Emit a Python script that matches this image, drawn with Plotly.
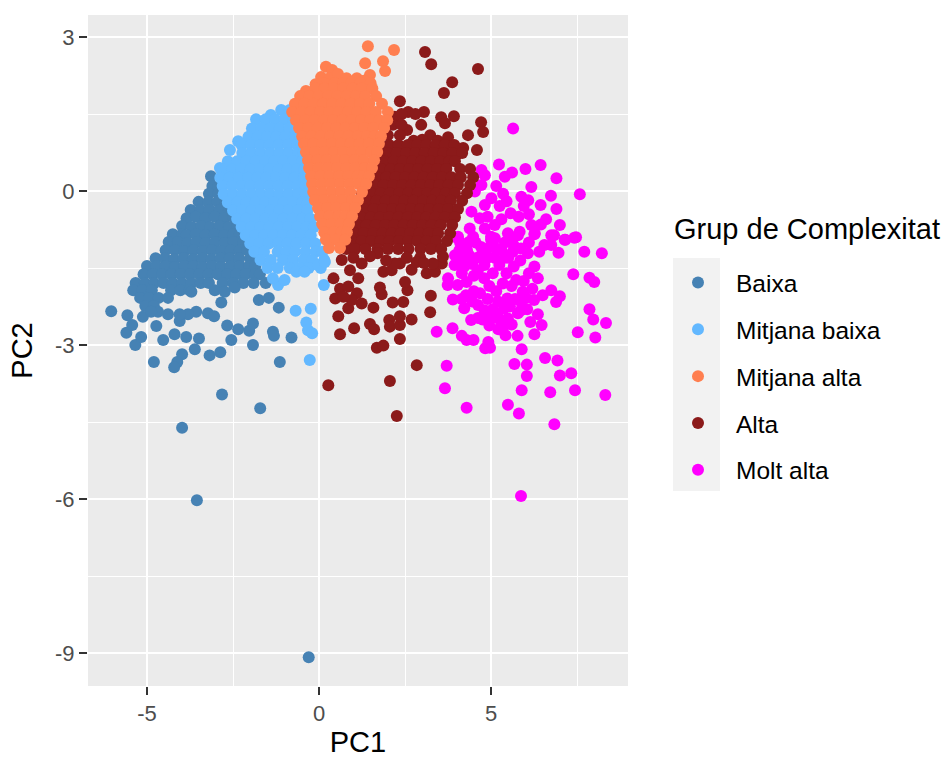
import plotly.graph_objects as go

x_tick_vals = [-5, 0, 5]
x_tick_text = ["-5", "0", "5"]
y_tick_vals = [3, 0, -3, -6, -9]
y_tick_text = ["3", "0", "-3", "-6", "-9"]
x_minor_vals = [-2.5, 2.5, 7.5]
y_minor_vals = [1.5, -1.5, -4.5, -7.5]

group_names = ["Baixa", "Mitjana baixa", "Mitjana alta", "Alta", "Molt alta"]
group_colors = ["#4682B4", "#63B8FF", "#FF7F50", "#8B1A1A", "#FF00FF"]

baixa = [
(-3.14,.29),(-3.1,.1),(-2.94,.06),(-3.2,-.05),(-2.92,-.05),(-3.5,-.21),(-3.22,-.21),(-2.95,-.21),(-2.72,-.21),
(-3.73,-.37),(-3.45,-.37),(-3.18,-.37),(-2.9,-.37),(-2.62,-.37),
(-3.85,-.53),(-3.58,-.5),(-3.3,-.53),(-3.03,-.5),(-2.76,-.53),(-2.5,-.5),
(-3.98,-.68),(-3.7,-.7),(-3.43,-.68),(-3.16,-.7),(-2.89,-.68),(-2.62,-.7),(-2.37,-.68),
(-4.25,-.84),(-3.98,-.84),(-3.85,-.86),(-3.58,-.84),(-3.3,-.86),(-3.03,-.84),(-2.76,-.86),(-2.5,-.84),(-2.3,-.84),
(-4.37,-.99),(-4.1,-.99),(-3.83,-1.01),(-3.56,-.99),(-3.29,-1.01),(-3.02,-.99),(-2.75,-1.01),(-2.48,-.99),(-2.2,-.99),
(-4.46,-1.15),(-4.19,-1.15),(-3.92,-1.17),(-3.65,-1.15),(-3.38,-1.17),(-3.11,-1.15),(-2.84,-1.17),(-2.57,-1.15),(-2.3,-1.15),(-2.08,-1.15),
(-4.75,-1.31),(-4.48,-1.31),(-4.21,-1.33),(-3.94,-1.31),(-3.67,-1.33),(-3.4,-1.31),(-3.13,-1.33),(-2.86,-1.31),(-2.59,-1.31),(-2.32,-1.31),(-2.0,-1.31),
(-5.0,-1.46),(-4.73,-1.46),(-4.46,-1.46),(-4.19,-1.48),(-3.92,-1.46),(-3.65,-1.46),(-3.38,-1.48),(-3.11,-1.46),(-2.84,-1.48),(-2.57,-1.46),(-2.3,-1.46),(-2.03,-1.46),(-1.85,-1.46),
(-5.1,-1.62),(-4.83,-1.62),(-4.56,-1.62),(-4.29,-1.62),(-4.02,-1.62),(-3.75,-1.62),(-3.48,-1.62),(-3.21,-1.62),(-2.94,-1.62),(-2.67,-1.62),(-2.4,-1.62),(-2.13,-1.62),(-1.86,-1.62),(-1.72,-1.62),
(-5.33,-1.79),(-5.06,-1.79),(-4.79,-1.79),(-4.52,-1.79),(-4.25,-1.79),(-3.98,-1.79),(-3.71,-1.79),(-3.44,-1.79),(-3.2,-1.79),(-2.8,-1.79),(-2.5,-1.79),(-2.2,-1.79),(-1.9,-1.79),(-1.55,-1.79),
(-5.4,-1.93),(-5.13,-1.93),(-4.86,-1.93),(-4.3,-1.93),(-4.03,-1.93),(-3.76,-1.93),
(-5.2,-2.08),(-4.93,-2.08),(-4.66,-2.08),(-4.39,-2.08),(-5.05,-2.24),(-4.8,-2.24),
(-6.04,-2.34),(-5.57,-2.42),(-5.6,-2.76),(-5.34,-3.0),(-5.17,-2.84),(-5.43,-2.61),(-5.12,-2.45),(-4.73,-2.63),(-4.53,-2.9),
(-4.2,-2.79),(-3.86,-2.84),(-3.49,-2.87),(-3.61,-3.08),(-3.98,-3.18),(-4.12,-3.33),(-4.21,-3.43),(-4.8,-3.33),(-3.18,-3.2),
(-2.87,-3.14),(-2.55,-2.9),(-2.67,-2.62),(-2.35,-2.69),(-2.03,-2.72),(-1.92,-2.58),(-1.92,-3.0),(-1.34,-2.74),(-1.31,-2.82),
(-.8,-2.85),(-1.14,-3.33),(-1.17,-2.27),(-1.75,-2.12),(-1.46,-2.08),(-2.84,-2.17),(-3.03,-1.93),(-2.74,-1.96),(-2.45,-1.88),
(-3.71,-1.96),(-3.23,-2.38),(-3.05,-2.44),(-3.57,-2.35),(-3.81,-2.4),(-4.05,-2.53),(-4.05,-2.4),(-4.39,-2.4),(-4.68,-2.35),(-4.88,-2.35),
(-2.82,-3.96),(-1.71,-4.23),(-3.98,-4.61),(-3.55,-6.02),(-.3,-9.08),
]

mitjana_baixa = [
(-1.1,1.58),(-.85,1.58),(-.6,1.58),(-1.4,1.48),(-1.83,1.4),(-1.55,1.4),(-1.28,1.4),(-1.0,1.4),(-.75,1.4),
(-1.95,1.22),(-1.68,1.22),(-1.41,1.22),(-1.14,1.22),(-.87,1.22),(-.62,1.22),
(-2.05,1.06),(-1.78,1.06),(-1.51,1.06),(-1.24,1.06),(-.97,1.06),(-.7,1.06),(-.55,1.06),(-2.35,.97),
(-2.25,.9),(-1.98,.9),(-1.71,.9),(-1.44,.9),(-1.17,.9),(-.9,.9),(-.63,.9),(-.5,.9),(-2.59,.8),
(-2.23,.74),(-1.96,.74),(-1.69,.74),(-1.42,.74),(-1.15,.74),(-.88,.74),(-.61,.74),(-.45,.74),
(-2.65,.58),(-2.38,.58),(-2.11,.58),(-1.84,.58),(-1.57,.58),(-1.3,.58),(-1.03,.58),(-.76,.58),(-.49,.58),(-2.88,.45),
(-2.8,.42),(-2.53,.42),(-2.26,.42),(-1.99,.42),(-1.72,.42),(-1.45,.42),(-1.18,.42),(-.91,.42),(-.64,.42),(-.42,.42),
(-2.87,.26),(-2.6,.26),(-2.33,.26),(-2.06,.26),(-1.79,.26),(-1.52,.26),(-1.25,.26),(-.98,.26),(-.71,.26),(-.44,.26),
(-2.8,.1),(-2.53,.1),(-2.26,.1),(-1.99,.1),(-1.72,.1),(-1.45,.1),(-1.18,.1),(-.91,.1),(-.64,.1),(-.4,.1),
(-2.77,-.06),(-2.5,-.06),(-2.23,-.06),(-1.96,-.06),(-1.69,-.06),(-1.42,-.06),(-1.15,-.06),(-.88,-.06),(-.61,-.06),(-.38,-.06),
(-2.65,-.22),(-2.38,-.22),(-2.11,-.22),(-1.84,-.22),(-1.57,-.22),(-1.3,-.22),(-1.03,-.22),(-.76,-.22),(-.49,-.22),(-.33,-.22),
(-2.5,-.38),(-2.23,-.38),(-1.96,-.38),(-1.69,-.38),(-1.42,-.38),(-1.15,-.38),(-.88,-.38),(-.61,-.38),(-.34,-.38),
(-2.38,-.54),(-2.11,-.54),(-1.84,-.54),(-1.57,-.54),(-1.3,-.54),(-1.03,-.54),(-.76,-.54),(-.49,-.54),(-.25,-.54),
(-2.25,-.7),(-1.98,-.7),(-1.71,-.7),(-1.44,-.7),(-1.17,-.7),(-.9,-.7),(-.63,-.7),(-.36,-.7),(-.15,-.7),
(-2.13,-.86),(-1.86,-.86),(-1.59,-.86),(-1.32,-.86),(-1.05,-.86),(-.78,-.86),(-.51,-.86),(-.24,-.86),
(-2.0,-1.02),(-1.73,-1.02),(-1.46,-1.02),(-1.19,-1.02),(-.92,-1.02),(-.65,-1.02),(-.38,-1.02),(-.11,-1.02),
(-1.88,-1.18),(-1.6,-1.18),(-1.2,-1.18),(-.95,-1.18),(-.7,-1.18),(-.4,-1.18),(-.1,-1.18),(.1,-1.18),
(-1.7,-1.34),(-1.4,-1.34),(-1.05,-1.34),(-.75,-1.34),(-.45,-1.34),(-.2,-1.34),(.15,-1.34),
(-1.5,-1.5),(-1.2,-1.5),(-.85,-1.5),(-.55,-1.5),(-.3,-1.5),(.05,-1.5),
(-1.19,-1.83),(-1.34,-1.7),(-1.0,-1.73),(-.66,-1.57),(-.42,-1.57),(-.03,-1.44),(.17,-1.38),(.14,-1.83),
(-.68,-2.33),(-.24,-2.29),(-.37,-2.56),(-.32,-2.71),(-.2,-2.77),(-.27,-3.29),
]

mitjana_alta = [
(1.42,2.82),(2.18,2.75),(1.86,2.53),(1.92,2.34),(1.34,2.49),(1.48,2.26),(.2,2.42),(.38,2.36),(.06,2.22),
(.3,2.2),(.55,2.28),(.8,2.2),(1.1,2.2),(1.3,2.15),(.15,2.1),(.45,2.1),(.7,2.1),(.95,2.12),(1.2,2.1),(1.5,2.1),(-.1,2.08),
(-.38,1.95),(-.11,2.0),(.16,2.0),(.43,2.0),(.7,2.0),(.97,2.0),(1.24,2.0),(1.55,2.0),
(-.55,1.85),(-.28,1.85),(-.01,1.85),(.26,1.85),(.53,1.85),(.8,1.85),(1.07,1.85),(1.34,1.85),(1.66,1.85),
(-.7,1.7),(-.43,1.7),(-.16,1.7),(.11,1.7),(.38,1.7),(.65,1.7),(.92,1.7),(1.19,1.7),(1.46,1.7),(1.83,1.7),
(-.78,1.54),(-.51,1.54),(-.24,1.54),(.03,1.54),(.3,1.54),(.57,1.54),(.84,1.54),(1.11,1.54),(1.38,1.54),(1.65,1.54),(2.0,1.54),
(-.67,1.38),(-.4,1.38),(-.13,1.38),(.14,1.38),(.41,1.38),(.68,1.38),(.95,1.38),(1.22,1.38),(1.49,1.38),(1.76,1.38),(1.98,1.38),
(-.58,1.23),(-.31,1.23),(-.04,1.23),(.23,1.23),(.5,1.23),(.77,1.23),(1.04,1.23),(1.31,1.23),(1.58,1.23),(1.89,1.23),
(-.49,1.07),(-.22,1.07),(.05,1.07),(.32,1.07),(.59,1.07),(.86,1.07),(1.13,1.07),(1.4,1.07),(1.62,1.07),(1.8,1.07),
(-.44,.92),(-.17,.92),(.1,.92),(.37,.92),(.64,.92),(.91,.92),(1.18,.92),(1.45,.92),(1.74,.92),
(-.38,.76),(-.11,.76),(.16,.76),(.43,.76),(.7,.76),(.97,.76),(1.24,.76),(1.51,.76),(1.69,.76),
(-.32,.6),(-.05,.6),(.22,.6),(.49,.6),(.76,.6),(1.03,.6),(1.3,.6),(1.6,.6),
(-.29,.45),(-.02,.45),(.25,.45),(.52,.45),(.79,.45),(1.06,.45),(1.33,.45),(1.54,.45),
(-.23,.29),(.04,.29),(.31,.29),(.58,.29),(.85,.29),(1.12,.29),(1.3,.29),(1.45,.29),
(-.2,.14),(.07,.14),(.34,.14),(.61,.14),(.88,.14),(1.15,.14),(1.37,.14),
(-.17,-.02),(.1,-.02),(.37,-.02),(.64,-.02),(.91,-.02),(1.25,-.02),
(-.12,-.18),(.15,-.18),(.42,-.18),(.69,-.18),(.96,-.18),(1.13,-.18),
(-.03,-.33),(.24,-.33),(.51,-.33),(.78,-.33),(1.05,-.33),
(.03,-.49),(.3,-.49),(.57,-.49),(.77,-.49),(.96,-.49),(.09,-.64),(.36,-.64),(.63,-.64),(.87,-.64),
(.15,-.8),(.42,-.8),(.65,-.8),(.81,-.8),(.2,-.95),(.48,-.95),(.76,-.95),(.29,-1.11),(.61,-1.11),
]

alta = [
(3.08,2.71),(3.26,2.47),(4.62,2.38),(3.87,2.12),(3.63,1.91),(2.35,1.75),(2.59,1.54),(3.05,1.54),(3.55,1.44),(3.92,1.46),(3.66,1.32),
(4.71,1.34),(4.77,1.15),(4.33,1.09),(4.59,.8),(2.56,1.19),(2.97,1.29),(3.23,1.09),(3.75,1.05),(4.19,.84),(3.98,.7),
(2.2,1.45),(2.4,1.5),(2.8,1.5),(2.15,1.29),(2.4,1.29),(2.0,1.09),(2.35,1.09),(2.75,.98),(3.0,1.0),(3.45,.98),
(1.77,.9),(2.04,.9),(2.31,.9),(2.58,.9),(2.85,.9),(3.12,.9),(3.39,.9),(3.66,.9),(3.93,.9),
(1.72,.74),(1.99,.74),(2.26,.74),(2.53,.74),(2.8,.74),(3.07,.74),(3.34,.74),(3.61,.74),(3.88,.74),(4.16,.74),
(1.63,.58),(1.9,.58),(2.17,.58),(2.44,.58),(2.71,.58),(2.98,.58),(3.25,.58),(3.52,.58),(3.79,.58),(3.95,.58),
(1.54,.43),(1.81,.43),(2.08,.43),(2.35,.43),(2.62,.43),(2.89,.43),(3.16,.43),(3.43,.43),(3.7,.43),(4.1,.43),(4.39,.43),
(1.42,.27),(1.69,.27),(1.96,.27),(2.23,.27),(2.5,.27),(2.77,.27),(3.04,.27),(3.31,.27),(3.58,.27),(3.85,.27),(4.12,.27),(4.48,.27),
(1.34,.12),(1.61,.12),(1.88,.12),(2.15,.12),(2.42,.12),(2.69,.12),(2.96,.12),(3.23,.12),(3.5,.12),(3.77,.12),(4.04,.12),(4.39,.12),
(1.25,-.04),(1.52,-.04),(1.79,-.04),(2.06,-.04),(2.33,-.04),(2.6,-.04),(2.87,-.04),(3.14,-.04),(3.41,-.04),(3.68,-.04),(3.95,-.04),(4.3,-.04),
(1.13,-.19),(1.4,-.19),(1.67,-.19),(1.94,-.19),(2.21,-.19),(2.48,-.19),(2.75,-.19),(3.02,-.19),(3.29,-.19),(3.56,-.19),(3.83,-.19),(4.16,-.19),
(1.05,-.35),(1.32,-.35),(1.59,-.35),(1.86,-.35),(2.13,-.35),(2.4,-.35),(2.67,-.35),(2.94,-.35),(3.21,-.35),(3.48,-.35),(3.75,-.35),(4.04,-.35),
(.96,-.51),(1.23,-.51),(1.5,-.51),(1.77,-.51),(2.04,-.51),(2.31,-.51),(2.58,-.51),(2.85,-.51),(3.12,-.51),(3.39,-.51),(3.66,-.51),(3.95,-.51),
(.84,-.66),(1.11,-.66),(1.38,-.66),(1.65,-.66),(1.92,-.66),(2.19,-.66),(2.46,-.66),(2.73,-.66),(3.0,-.66),(3.27,-.66),(3.54,-.66),(3.87,-.66),
(.76,-.82),(1.03,-.82),(1.3,-.82),(1.57,-.82),(1.84,-.82),(2.11,-.82),(2.38,-.82),(2.65,-.82),(2.92,-.82),(3.19,-.82),(3.46,-.82),(3.81,-.82),
(.7,-.97),(.97,-.97),(1.24,-.97),(1.51,-.97),(1.78,-.97),(2.05,-.97),(2.32,-.97),(2.59,-.97),(2.86,-.97),(3.13,-.97),(3.4,-.97),(3.72,-.97),
(.8,-1.13),(1.05,-1.13),(1.35,-1.13),(1.7,-1.13),(2.0,-1.13),(2.3,-1.13),(2.6,-1.13),(2.95,-1.13),(3.25,-1.13),(3.55,-1.13),
(.66,-1.34),(1.24,-1.41),(.9,-1.54),(1.7,-1.21),(1.48,-1.27),(1.87,-1.57),(2.11,-1.54),(2.35,-1.41),(2.2,-1.41),(2.69,-1.53),(2.94,-1.3),(3.13,-1.6),(3.37,-1.57),(3.57,-1.41),(3.6,-1.28),(3.31,-1.41),(2.84,-1.38),
(.27,-3.78),(2.06,-3.7),(2.84,-3.39),(2.26,-4.38),(.61,-2.79),(1.02,-2.67),(.56,-2.44),(.85,-2.28),(1.58,-2.27),(1.48,-2.59),(1.6,-2.69),(1.68,-3.05),(1.87,-3.01),(2.35,-2.88),
(2.04,-2.51),(2.06,-2.64),(2.35,-2.61),(2.35,-2.44),(2.69,-2.5),(3.23,-2.36),(3.25,-2.04),(2.14,-2.17),(2.45,-2.16),(1.82,-2.01),(1.77,-1.88),(2.57,-1.93),(2.5,-1.77),
(.47,-2.09),(.42,-1.7),(.61,-1.9),(.85,-1.86),(1.1,-1.99),(1.24,-2.19),(.95,-2.12),(1.14,-1.7),(.71,-2.06),
(1.0,-1.3),(1.95,-1.35),(2.55,-1.3),(3.05,-1.4),
]

molt_alta = [
(3.42,-2.74),(3.88,-2.67),(4.15,-2.82),(4.29,-2.9),(4.49,-2.9),(4.83,-3.06),(4.97,-3.05),(4.92,-2.94),(3.71,-3.4),(3.66,-3.84),(4.29,-4.22),
(5.49,-4.16),(5.81,-4.33),(6.84,-4.54),(5.89,-3.88),(6.04,-3.6),(6.04,-3.38),(5.68,-3.37),(5.89,-3.08),(6.57,-3.25),(6.93,-3.3),(7.0,-3.59),
(7.33,-3.55),(6.72,-3.92),(7.44,-3.88),(8.32,-3.97),(8.03,-2.85),(7.52,-2.75),(8.34,-2.57),(7.97,-2.5),(7.86,-2.3),(8.0,-1.77),(7.86,-1.69),
(7.39,-1.62),(8.22,-1.21),(7.71,-1.18),(7.47,-.9),(7.16,-.95),(6.96,-1.2),(6.75,-1.93),(7.0,-2.05),(6.89,-2.16),(6.5,-2.03),(6.25,-2.12),
(5.92,-1.96),(5.87,-2.16),(6.36,-1.7),(6.36,-2.4),(6.14,-2.55),(6.47,-2.61),(6.26,-2.79),(5.77,-2.82),(5.42,-2.81),(5.21,-2.69),(5.73,-1.73),
(5.66,-1.47),(5.15,-1.12),(5.24,-1.44),(5.34,-1.8),(5.15,-1.95),(4.68,-1.99),(3.89,-2.11),(4.22,-2.28),(4.42,-2.51),(4.81,-2.32),(4.62,-2.22),
(5.0,-2.47),(5.38,-2.28),(5.49,-2.48),(5.78,-2.38),(5.47,-2.09),(4.29,-1.77),(3.74,-1.83),(4.03,-1.83),(4.27,-2.03),(3.94,-1.44),(4.22,-1.47),
(4.62,-1.54),(4.81,-1.44),(4.08,-1.15),(4.36,-1.25),(4.71,-1.09),(5.0,-.89),(4.36,-.99),(4.03,-.92),(5.78,-.86),(6.26,-.84),(6.83,-.86),(6.75,-1.05),
(6.4,-1.18),(6.07,-1.21),(5.63,-1.18),(5.87,-1.12),(6.26,-1.47),(4.9,-1.3),(6.02,-2.08),(5.87,-2.32),(5.19,-2.38),(4.62,-2.47),
(5.64,1.22),(4.72,.41),(5.23,.52),(5.4,.28),(5.61,.36),(6.0,.43),(6.44,.51),(6.9,.25),(6.17,.08),(7.58,-.06),(6.74,-.09),(5.88,-.11),(6.08,-.18),
(5.95,-.29),(6.44,-.27),(6.9,-.35),(5.57,-.43),(7.0,-.66),(6.17,-.66),(6.27,-.82),(6.75,-.86),(7.14,-.95),(7.42,-.91),(5.83,-.79),(5.49,-.82),
(4.82,.31),(4.72,.12),(4.53,-.01),(5.01,-.14),(5.25,-.29),(4.82,-.27),(4.43,-.4),(4.67,-.53),(5.11,-.66),(4.82,-.73),(4.38,-.73),(4.04,-.89),
(4.48,-.89),(5.11,-.92),(4.1,-1.0),(4.3,-1.15),(4.55,-1.0),(4.75,-1.2),(5.0,-.95),(5.4,-1.0),(5.6,-.95),(3.95,-1.25),(4.15,-1.35),(4.6,-1.3),
(4.95,-1.1),(5.3,-1.15),(5.5,-1.3),(5.1,-1.3),(4.45,-1.42),(4.15,-1.6),(4.5,-1.65),(4.8,-1.7),(5.05,-1.6),(5.45,-1.6),(5.6,-1.85),(4.95,-1.85),
(4.5,-1.95),(4.45,-2.15),(4.9,-2.1),(5.2,-2.15),(5.7,-2.1),(5.55,-2.25),(5.05,-2.3),(4.75,-2.5),(5.25,-2.5),(5.6,-2.6),(5.35,-2.65),(4.95,-2.62),
(6.1,-1.0),(6.55,-1.05),(6.45,-.65),(5.8,-.5),(5.3,-.55),(4.9,-.5),(5.45,-.2),(6.1,-.45),(6.6,-.55),(5.15,.1),(5.35,-.05),(5.85,-1.35),
(6.1,-1.6),(5.95,-1.75),(6.2,-1.9),(6.05,-2.3),(5.65,-1.05),(5.4,-1.3),(4.15,-2.1),(3.75,-1.7),
(5.87,-5.94),
]

series_points = {"Baixa": baixa, "Mitjana baixa": mitjana_baixa, "Mitjana alta": mitjana_alta, "Alta": alta, "Molt alta": molt_alta}
draw_order = ["Baixa", "Mitjana baixa", "Molt alta", "Alta", "Mitjana alta"]

fig = go.Figure()
for name in draw_order:
    pts = series_points[name]
    i = group_names.index(name)
    fig.add_trace(go.Scatter(
        x=[p[0] for p in pts], y=[p[1] for p in pts], mode="markers", name=name,
        legendgroup=name, legendrank=i + 1,
        marker=dict(color=group_colors[i], size=12, line=dict(width=0)),
    ))

font = "Liberation Sans, Arial, sans-serif"
axis_common = dict(
    showgrid=True, gridcolor="white", gridwidth=1.6, zeroline=False, showline=False,
    ticks="outside", ticklen=8, tickwidth=2, tickcolor="#333333",
    tickfont=dict(family=font, size=22, color="#4D4D4D"),
    tickmode="array", automargin=False,
)
fig.update_layout(
    width=944, height=758,
    margin=dict(l=88, r=316, t=15, b=72),
    paper_bgcolor="white", plot_bgcolor="#EBEBEB",
    font=dict(family=font, color="black"),
    xaxis=dict(range=[-6.715, 8.98], tickvals=x_tick_vals, ticktext=x_tick_text,
               minor=dict(tickvals=x_minor_vals, showgrid=True, gridcolor="white", gridwidth=0.8, ticks=""),
               title=dict(text="PC1", font=dict(size=29), standoff=10), **axis_common),
    yaxis=dict(range=[-9.64, 3.43], tickvals=y_tick_vals, ticktext=y_tick_text,
               minor=dict(tickvals=y_minor_vals, showgrid=True, gridcolor="white", gridwidth=0.8, ticks=""),
               title=dict(text="PC2", font=dict(size=29), standoff=13), **axis_common),
    legend=dict(
        x=(660 - 88) / 540, xanchor="left", y=(686 - 260) / 671, yanchor="top",
        font=dict(size=24.5, family=font, color="black"),
        tracegroupgap=12, itemwidth=66, bgcolor="rgba(0,0,0,0)", borderwidth=0,
    ),
    annotations=[dict(text="Grup de Complexitat", xref="paper", yref="paper",
                      x=(674 - 88) / 540, xanchor="left", xshift=-2, y=(686 - 229) / 671, yanchor="middle",
                      showarrow=False, font=dict(size=29, family=font, color="black"))],
    shapes=[dict(type="rect", xref="paper", yref="paper", layer="below",
                 x0=(673 - 88) / 540, x1=(720 - 88) / 540,
                 y0=(686 - 491) / 671, y1=(686 - 258) / 671,
                 fillcolor="#F2F2F2", line=dict(width=0))],
)

fig.write_html("out.html", config={"displayModeBar": False}, post_script="document.body.style.margin='0';")
